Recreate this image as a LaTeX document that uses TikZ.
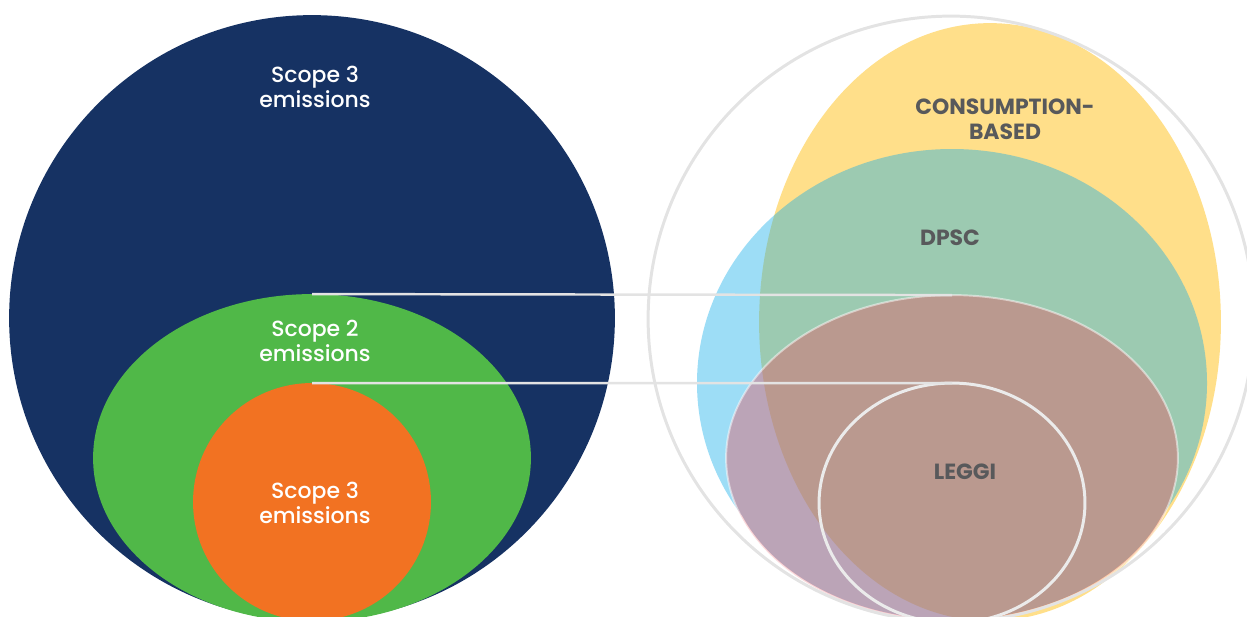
\documentclass[tikz,border=0pt]{standalone}
\usepackage{fontspec}
\setmainfont{Poppins}
\newfontfamily\medfont{Poppins Medium}
\usetikzlibrary{shapes.geometric}
\definecolor{navy}{HTML}{163263}
\definecolor{sgreen}{HTML}{50B848}
\definecolor{sorange}{HTML}{F27222}
\definecolor{cyellow}{HTML}{FFDF8A}
\definecolor{cblue}{RGB}{21,174,233}
\definecolor{cred}{RGB}{228,86,98}
\definecolor{lgray}{HTML}{E3E3E3}
\definecolor{labgray}{HTML}{58595B}
\begin{document}
\begin{tikzpicture}[x=0.02cm,y=-0.02cm,
  ell/.style n args={2}{ellipse, minimum width=#1*0.04cm, minimum height=#2*0.04cm, inner sep=0pt, outer sep=0pt},
  scopetxt/.style={text=white, align=center, font=\medfont\fontsize{12.5}{14.2}\selectfont},
  cattxt/.style={text=labgray, align=center, font=\bfseries\fontsize{12.5}{14.2}\selectfont},
  link/.style={draw=lgray, line width=1.4pt},
  ring/.style={draw=lgray, line width=1.7pt}]
\useasboundingbox (0,0) rectangle (1247,616);
\begin{scope}
\clip (0,0) rectangle (1247,616);
% left
\node[ell={303}{303}, fill=navy] (navyc) at (312,318) {};
\node[ell={219}{164}, fill=sgreen] (greene) at (312,458) {};
\node[ell={119}{119}, fill=sorange] (orangec) at (312,502) {};
% right
\node[ell={231}{299}, fill=cyellow] (cons) at (990,322) {};
\node[ell={255}{234}] (dpsc) at (952,383) {};
\fill[cblue, fill opacity=0.42, nonzero rule] (dpsc.center) ellipse [x radius=255, y radius=234]
      (952,458) ellipse [x radius=224.5, y radius=161.5];
\node[ell={226}{163}, fill=cred, fill opacity=0.42, draw=white, draw opacity=0.5, line width=1.1pt] (third) at (952,458) {};
\node[ell={133}{120}, draw=white!92!black, line width=1.7pt] (leggi) at (952,503) {};
\node[ell={303}{303}, ring] (outer) at (951,319) {};
\end{scope}
% connectors
\draw[link] (greene.north) -- (third.north);
\draw[link] (orangec.north) -- (leggi.north);
% labels
\node[scopetxt] (t3a) at (315,87) {Scope 3\\emissions};
\node[scopetxt] (t2) at (315,340.5) {Scope 2\\emissions};
\node[scopetxt] (t3b) at (315,502.5) {Scope 3\\emissions};
\node[cattxt] (tcons) at (1005,119.5) {CONSUMPTION-\\BASED};
\node[cattxt] (tdpsc) at (950,238) {DPSC};
\node[cattxt] (tleggi) at (965,472) {LEGGI};
\end{tikzpicture}
\end{document}
